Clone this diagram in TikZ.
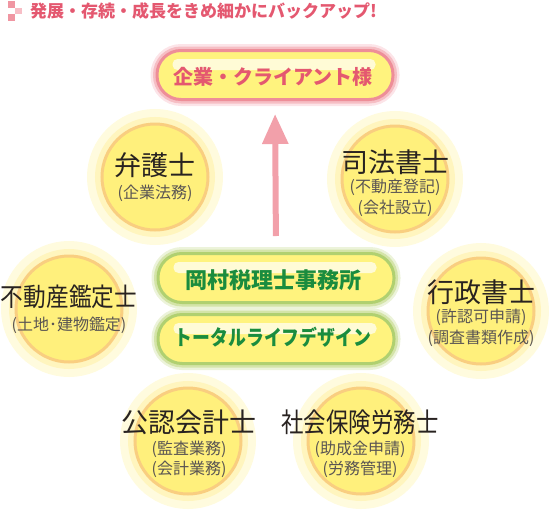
\documentclass[tikz,border=0pt]{standalone}
\usepackage{fontspec}
\setmainfont{Noto Sans CJK JP}
\usepackage{graphicx}
\usetikzlibrary{arrows.meta,calc,positioning}
\definecolor{headpink}{RGB}{228,88,112}
\definecolor{iconpink}{RGB}{240,150,162}
\definecolor{iconlight}{RGB}{247,190,198}
\definecolor{pillyellow}{RGB}{255,243,126}
\definecolor{pillshine}{RGB}{255,251,214}
\definecolor{pinkline}{RGB}{238,142,152}
\definecolor{pinkmid}{RGB}{246,190,196}
\definecolor{pinkglow}{RGB}{252,228,232}
\definecolor{greenline}{RGB}{176,208,112}
\definecolor{greenmid}{RGB}{212,228,168}
\definecolor{greenglow}{RGB}{236,243,218}
\definecolor{greentext}{RGB}{26,140,62}
\definecolor{expfill}{RGB}{255,240,124}
\definecolor{expring}{RGB}{249,206,128}
\definecolor{expmid}{RGB}{255,245,190}
\definecolor{expglow}{RGB}{255,251,222}
\definecolor{titledark}{RGB}{40,34,32}
\definecolor{subgray}{RGB}{90,85,83}
\definecolor{arrowpink}{RGB}{242,160,170}

\begin{document}
\begin{tikzpicture}[x=1pt,y=-1pt,
  expert/.style={circle,minimum size=106pt,inner sep=0pt,fill=expfill,draw=expring,line width=3pt,
    preaction={draw=expglow,line width=30pt},preaction={draw=expmid,line width=14pt}},
  pill/.style={rectangle,rounded corners=24pt,minimum width=236pt,minimum height=49pt,inner sep=0pt,
    fill=pillyellow,line width=3pt},
  pinkpill/.style={pill,draw=pinkline,
    preaction={draw=pinkglow,line width=13pt},preaction={draw=pinkmid,line width=8pt}},
  greenpill/.style={pill,draw=greenline,
    preaction={draw=greenglow,line width=13pt},preaction={draw=greenmid,line width=8pt}},
  title/.style={text=titledark,font=\fontsize{27}{30}\selectfont,inner sep=0pt},
  sub/.style={text=subgray,font=\fontsize{16}{18}\selectfont,inner sep=0pt},
  pilltext/.style={font=\bfseries\fontsize{20}{22}\selectfont,inner sep=0pt}]
  \useasboundingbox (0,0) rectangle (549,509);

  % heading
  \fill[iconpink] (8,1) rectangle (15,8);
  \fill[iconlight] (15,8) rectangle (22,14);
  \fill[iconpink] (8,14) rectangle (15,21);
  \node[anchor=west,text=headpink,font=\bfseries\fontsize{17}{19}\selectfont,inner sep=0pt] (head) at (30,11)
    {発展・存続・成長をきめ細かにバックアップ!};

  % experts
  \node[expert] (bengo) at (155,177) {};
  \node[expert] (shiho) at (395,179) {};
  \node[expert] (fudosan) at (69,309) {};
  \node[expert] (gyosei) at (481,311) {};
  \node[expert] (konin) at (188,441) {};
  \node[expert] (sharo) at (361,441) {};

  \node[title] (bengoT) at (155,165) {弁護士};
  \node[sub] (bengoS) at (155,193) {(企業法務)};
  \node[title] (shihoT) at (395,162) {司法書士};
  \node[sub] (shihoS) at (395,187) {(不動産登記)};
  \node[sub] (shihoS2) at (395,208) {(会社設立)};
  \node[title] (fudosanT) at (69,297) {\scalebox{0.84}[0.95]{不動産鑑定士}};
  \node[sub] (fudosanS) at (69,325) {(土地･建物鑑定)};
  \node[title] (gyoseiT) at (481,292) {行政書士};
  \node[sub] (gyoseiS) at (481,317) {(許認可申請)};
  \node[sub] (gyoseiS2) at (481,338) {(調査書類作成)};
  \node[title] (koninT) at (189,422) {公認会計士};
  \node[sub] (koninS) at (189,449) {(監査業務)};
  \node[sub] (koninS2) at (189,469) {(会計業務)};
  \node[title] (sharoT) at (360,422) {\scalebox{0.83}[1]{社会保険労務士}};
  \node[sub] (sharoS) at (360,449) {(助成金申請)};
  \node[sub] (sharoS2) at (360,469) {(労務管理)};

  % pills
  \node[pinkpill] (client) at (275,75) {};
  \node[greenpill] (okamura) at (276,278) {};
  \node[greenpill] (total) at (276,339) {};
  \foreach \p in {client,okamura,total}
    \fill[pillshine,rounded corners=5pt] ($(\p.north west)+(17,10)$) rectangle ($(\p.north east)+(-19,21)$);

  \node[pilltext,text=headpink] (clientT) at (273,77) {企業・クライアント様};
  \node[pilltext,text=greentext,font=\bfseries\fontsize{22}{24}\selectfont] (okamuraT) at (273,280) {岡村税理士事務所};
  \node[pilltext,text=greentext,font=\bfseries\fontsize{21}{23}\selectfont] (totalT) at (273,337)
    {\scalebox{0.85}[1]{トータルライフデザイン}};

  % arrow
  \draw[arrowpink,line width=6pt,-{Triangle[width=25pt,length=30pt]},shorten <=16pt,shorten >=13pt]
    (okamura.north) -- (client.south);
\end{tikzpicture}
\end{document}
